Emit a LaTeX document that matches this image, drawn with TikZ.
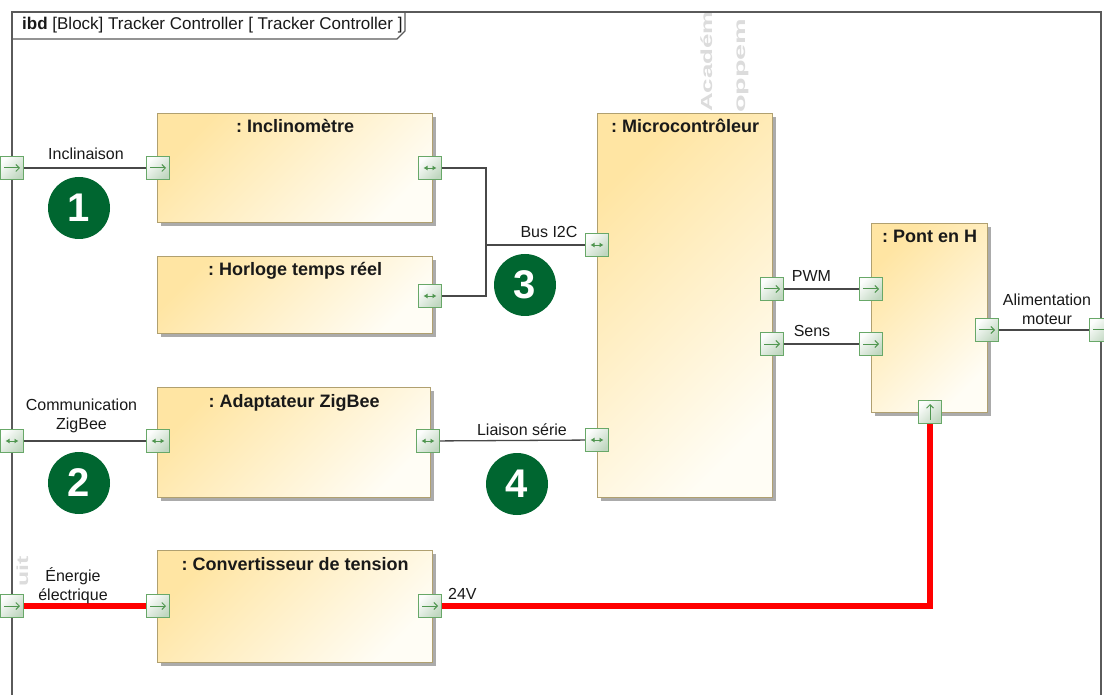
\documentclass[tikz,border=0pt]{standalone}
\usepackage{fontspec}
\setmainfont{Liberation Sans}
\usetikzlibrary{arrows.meta,shadows,calc}
\frenchspacing
\definecolor{byel}{RGB}{255,229,163}
\definecolor{bwhite}{RGB}{255,253,245}
\definecolor{bborder}{RGB}{176,160,112}
\definecolor{pborder}{RGB}{104,168,104}
\definecolor{parrow}{RGB}{80,150,80}
\definecolor{pfillA}{RGB}{252,253,252}
\definecolor{pfillB}{RGB}{192,215,192}
\definecolor{connc}{RGB}{72,72,72}
\definecolor{nbgreen}{RGB}{0,102,48}
\definecolor{wmc}{RGB}{220,220,220}
\definecolor{framec}{RGB}{90,90,90}
\definecolor{txt}{RGB}{25,25,25}
\definecolor{powerc}{RGB}{255,0,0}
\begin{document}
\begin{tikzpicture}[x=1pt,y=-1pt,
  every node/.style={font=\fontsize{16}{19}\selectfont, text=txt, inner sep=0pt},
  block/.style={draw=bborder, line width=1.3pt, left color=byel, right color=bwhite, shading angle=45,
    drop shadow={shadow xshift=3.5pt, shadow yshift=-3.5pt, fill=black!33, opacity=1},
    inner sep=0pt, anchor=north west},
  title/.style={font=\bfseries\fontsize{18}{21}\selectfont, anchor=base},
  lbl/.style={anchor=base},
  port/.style={draw=pborder, line width=1.1pt, left color=pfillA, right color=pfillB, shading angle=45,
    minimum size=23pt, inner sep=0pt},
  portR/.style={port, path picture={\draw[parrow, line width=1pt, -{Straight Barb[length=3.5pt,width=7pt]}]
      ([xshift=-8pt]path picture bounding box.center) -- ([xshift=8pt]path picture bounding box.center);}},
  portB/.style={port, path picture={\draw[parrow, line width=0.9pt, {Latex[length=4pt,width=5pt]}-{Latex[length=4pt,width=5pt]}]
      ([xshift=-6.5pt]path picture bounding box.center) -- ([xshift=6.5pt]path picture bounding box.center);}},
  portU/.style={port, path picture={\draw[parrow, line width=1pt, -{Straight Barb[length=3.5pt,width=7pt]}]
      ([yshift=-8pt]path picture bounding box.center) -- ([yshift=8pt]path picture bounding box.center);}},
  conn/.style={draw=connc, line width=1.3pt},
  power/.style={draw=powerc, line width=6pt},
  numc/.style={circle, fill=nbgreen, minimum size=62pt, inner sep=0pt, text=white,
    font=\bfseries\fontsize{40}{42}\selectfont},
  wmk/.style={text=wmc, font=\bfseries\fontsize{16}{18}\selectfont, anchor=base west, rotate=90},
  frm/.style={draw=framec, line width=1.3pt}
]
\useasboundingbox (0,0) rectangle (1104,695);
\fill[white] (0,0) rectangle (1104,695);

% watermark fragments
\node[wmk] (wm1) at (712,112) {\scalebox{1.62}[1]{Académ}};
\node[wmk] (wm2) at (745,190) {\scalebox{1.8}[1]{Développem}};
\node[wmk] (wm3) at (28,587) {\scalebox{1.55}[1]{uit}};

% frame
\draw[frm] (12,712) -- (12,12) -- (1101,12) -- (1101,712);
\draw[frm] (12,39) -- (397,39) -- (405,31) -- (405,12);
\node[anchor=base west, font=\fontsize{17}{20}\selectfont] (hdr) at (22,29.5) {\textbf{ibd} [Block] Tracker Controller [ Tracker Controller ]};

% blocks
\node[block, minimum width=275pt, minimum height=109pt] (incl) at (157,113) {};
\node[block, minimum width=275pt, minimum height=77pt] (horl) at (157,256) {};
\node[block, minimum width=175pt, minimum height=384pt] (micro) at (597,113) {};
\node[block, minimum width=116pt, minimum height=189pt] (pont) at (871,223) {};
\node[block, minimum width=273pt, minimum height=110pt] (zig) at (157,387) {};
\node[block, minimum width=275pt, minimum height=112pt] (conv) at (157,550) {};

\node[title] (incl-t) at ($(incl.north)+(0,20)$) {: Inclinomètre};
\node[title] (horl-t) at ($(horl.north)+(0,20)$) {: Horloge temps réel};
\node[title] (micro-t) at ($(micro.north)+(0,20)$) {: Microcontrôleur};
\node[title] (pont-t) at ($(pont.north)+(0,20)$) {: Pont en H};
\node[title] (zig-t) at ($(zig.north)+(0,20)$) {: Adaptateur ZigBee};
\node[title] (conv-t) at ($(conv.north)+(0,20)$) {: Convertisseur de tension};

% port positions
\coordinate (bus) at (486,245);
\coordinate (fp1c) at (12,168);
\coordinate (ip1c) at (158,168);
\coordinate (ip2c) at (430,168);
\coordinate (hpc) at (430,296);
\coordinate (mp1c) at (597,245);
\coordinate (mp2c) at (597,440);
\coordinate (fp2c) at (12,441);
\coordinate (zp1c) at (158,441);
\coordinate (zp2c) at (428,441);
\coordinate (mp3c) at (772,289);
\coordinate (mp4c) at (772,344);
\coordinate (pp1c) at (871,289);
\coordinate (pp2c) at (871,344);
\coordinate (pp3c) at (987,330);
\coordinate (fp4c) at (1101,330);
\coordinate (pp4c) at (930,412);
\coordinate (fp3c) at (12,606);
\coordinate (cp1c) at (158,606);
\coordinate (cp2c) at (430,606);

% ports
\node[portR] (fp1) at (fp1c) {};
\node[portR] (ip1) at (ip1c) {};
\node[portB] (ip2) at (ip2c) {};
\node[portB] (hp) at (hpc) {};
\node[portB] (mp1) at (mp1c) {};
\node[portB] (mp2) at (mp2c) {};
\node[portB] (fp2) at (fp2c) {};
\node[portB] (zp1) at (zp1c) {};
\node[portB] (zp2) at (zp2c) {};
\node[portR] (mp3) at (mp3c) {};
\node[portR] (mp4) at (mp4c) {};
\node[portR] (pp1) at (pp1c) {};
\node[portR] (pp2) at (pp2c) {};
\node[portR] (pp3) at (pp3c) {};
\node[portR] (fp4) at (fp4c) {};
\node[portU] (pp4) at (pp4c) {};
\node[portR] (fp3) at (fp3c) {};
\node[portR] (cp1) at (cp1c) {};
\node[portR] (cp2) at (cp2c) {};

% connectors
\draw[conn] (fp1) -- (ip1);
\draw[conn] (ip2.east) -- (ip2.east -| bus) -- (hp.east -| bus) -- (hp.east);
\draw[conn] (bus) -- (mp1.west);
\draw[conn] (fp2) -- (zp1);
\draw[conn] (zp2) -- (mp2);
\draw[conn] (mp3) -- (pp1);
\draw[conn] (mp4) -- (pp2);
\draw[conn] (pp3) -- (fp4);
\draw[power] (fp3) -- (cp1);
\draw[power] (cp2.east) -| (pp4.south);

% labels
\node[lbl] (l-incl) at (86,159.5) {Inclinaison};
\node[lbl, align=center] (l-zig) at (81.5,429) {Communication\\ZigBee};
\node[lbl, align=center] (l-en) at (73,600) {Énergie\\électrique};
\node[lbl] (l-bus) at (549,237.5) {Bus I2C};
\node[lbl] (l-ser) at (522,435) {Liaison série};
\node[lbl] (l-pwm) at (811.5,281.5) {PWM};
\node[lbl] (l-sens) at (812,336.5) {Sens};
\node[lbl, align=center] (l-alim) at (1047,324) {Alimentation\\moteur};
\node[anchor=base west] (l-24) at (448,599) {24V};

% numbered circles
\node[numc] (n1) at (79,208) {1};
\node[numc] (n2) at (79,483) {2};
\node[numc] (n3) at (525,285) {3};
\node[numc] (n4) at (517,484) {4};
\end{tikzpicture}
\end{document}
